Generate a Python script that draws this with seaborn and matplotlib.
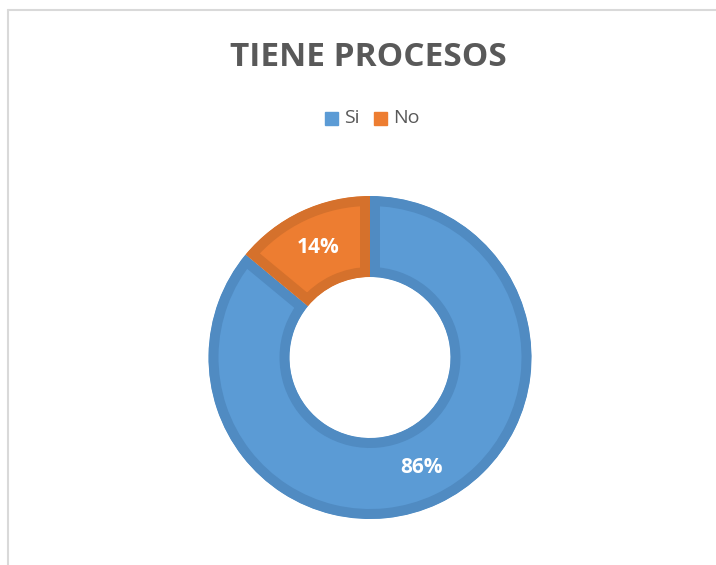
import matplotlib
matplotlib.use('Agg')
import matplotlib.pyplot as plt
import seaborn as sns
from matplotlib.lines import Line2D
from matplotlib.patches import Rectangle

# datos del grafico
categorias = ['Si', 'No']
valores    = [86, 14]
colores    = ['#5B9BD5', '#ED7D31']
bordes     = ['#508BC2', '#D5712C']

sns.set_theme(style='white')
plt.rcParams['font.family'] = ['Open Sans', 'DejaVu Sans']

W, H = 716, 565
fig = plt.figure(figsize=(W / 100, H / 100), dpi=100)
ax = fig.add_axes([0, 0, 1, 1])

# marco gris (izquierda y arriba)
fig.add_artist(Line2D([8 / W, 8 / W], [0, 1 - 10 / H], color='#D9D9D9', lw=1.5))
fig.add_artist(Line2D([8 / W, 1], [1 - 10 / H, 1 - 10 / H], color='#D9D9D9', lw=1.5))

R = 161.5
cx, cy = 370, H - 357.5
wedges, textos, autotextos = ax.pie(
    valores, colors=colores, startangle=90, counterclock=False,
    radius=R, center=(cx, cy), frame=True,
    wedgeprops=dict(width=81, linewidth=14.4),
    autopct='%1.0f%%', pctdistance=0.75,
    textprops=dict(color='white', fontsize=15, fontweight='bold'))
ax.set_xlim(0, W)
ax.set_ylim(0, H)
ax.set_aspect('equal')
ax.axis('off')

# borde solo hacia dentro de cada sector
for w, b in zip(wedges, bordes):
    w.set_edgecolor(b)
    w.set_clip_on(True)
    w.set_clip_path(w)

# titulo
fig.text(368 / W, 1 - 57 / H, 'TIENE PROCESOS', ha='center', va='center',
         fontsize=24, fontweight='bold', color='#595959')

# leyenda
ly = 1 - 118.5 / H
xs = [325, 374]
for x, c, t in zip(xs, colores, categorias):
    fig.add_artist(Rectangle((x / W, ly - 6.5 / H), 13 / W, 13 / H,
                             transform=fig.transFigure, color=c))
    fig.text((x + 19) / W, ly, t, ha='left', va='center', fontsize=14, color='#595959')

fig.savefig('out.png', dpi=100)
